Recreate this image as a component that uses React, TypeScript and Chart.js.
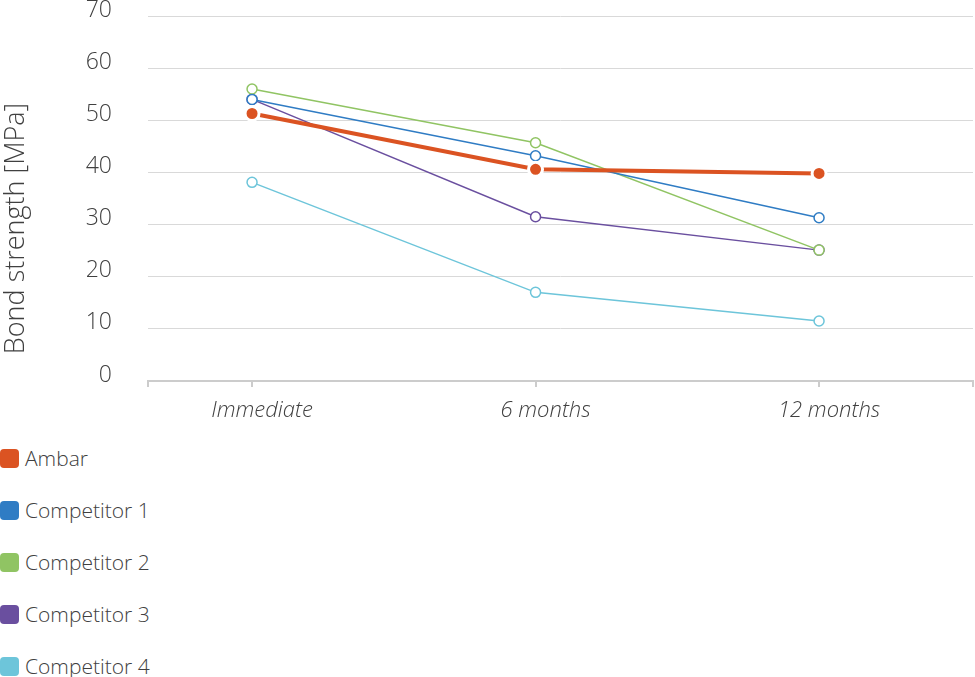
import React, { useEffect, useRef } from "react";
import { Chart, registerables } from "chart.js";

Chart.register(...registerables);

const categories = ["Immediate", "6 months", "12 months"];
const seriesNames = ["Ambar", "Competitor 1", "Competitor 2", "Competitor 3", "Competitor 4"];
const ambar = [51.3, 40.6, 39.8];
const competitor1 = [54.0, 43.2, 31.3];
const competitor2 = [56.0, 45.7, 25.1];
const competitor3 = [54.0, 31.5, 25.1];
const competitor4 = [38.1, 17.0, 11.5];
const yTicks = [0, 10, 20, 30, 40, 50, 60, 70];
const yTitle = "Bond strength [MPa]";
const colors = ["#db5322", "#2f7cc4", "#90c463", "#6a4f9f", "#6dc5da"];

const FONT = "'Open Sans', sans-serif";
const TEXT = "#404040";

const yTitlePlugin = {
  id: "yTitleLower",
  afterDraw(chart: any) {
    const { ctx, chartArea } = chart;
    ctx.save();
    ctx.fillStyle = TEXT;
    ctx.font = `300 27px ${FONT}`;
    ctx.textAlign = "center";
    ctx.textBaseline = "middle";
    ctx.translate(16, (chartArea.top + chartArea.bottom) / 2 + 30);
    ctx.rotate(-Math.PI / 2);
    ctx.fillText(yTitle, 0, 0);
    ctx.restore();
  },
};

export default function App() {
  const ref = useRef<HTMLCanvasElement | null>(null);

  useEffect(() => {
    document.body.style.margin = "0";
    const values = [ambar, competitor1, competitor2, competitor3, competitor4];
    const datasets = values.map((vals, i) => {
      const isMain = i === 0;
      return {
        label: seriesNames[i],
        data: vals.map((v, j) => ({ x: j, y: v })),
        borderColor: colors[i],
        backgroundColor: colors[i],
        borderWidth: isMain ? 4 : 1.5,
        pointRadius: isMain ? 7 : 5,
        pointBorderWidth: isMain ? 3 : 1.5,
        pointBackgroundColor: isMain ? colors[i] : "#ffffff",
        pointBorderColor: isMain ? "#ffffff" : colors[i],
        tension: 0,
      };
    });
    const xMin = -0.367;
    const xMax = 2.543;
    const chart = new Chart(ref.current!, {
      type: "line",
      data: { datasets },
      plugins: [yTitlePlugin],
      options: {
        animation: false,
        responsive: false,
        maintainAspectRatio: false,
        layout: { autoPadding: false, padding: { left: 0, right: 2, top: 16, bottom: 0 } },
        plugins: { legend: { display: false }, tooltip: { enabled: false } },
        scales: {
          x: {
            type: "linear",
            min: xMin,
            max: xMax,
            afterBuildTicks: (scale: any) => {
              scale.ticks = [xMin, 0, 1, 2, xMax].map((v) => ({ value: v }));
            },
            afterFit: (scale: any) => {
              scale.height = 49;
              scale.paddingLeft = 0;
              scale.paddingRight = 0;
            },
            ticks: {
              autoSkip: false,
              maxRotation: 0,
              padding: 11,
              labelOffset: 10,
              color: TEXT,
              font: { family: FONT, size: 22, style: "italic", weight: 300 },
              callback: (v: any) => {
                const idx = Math.round(v);
                return Math.abs(v - idx) < 1e-6 && categories[idx] ? categories[idx] : "";
              },
            },
            grid: {
              drawOnChartArea: false,
              drawTicks: true,
              tickLength: 6,
              color: "#cccccc",
              lineWidth: 2,
            },
            border: { display: true, color: "#cccccc", width: 2 },
          },
          y: {
            min: 0,
            max: 70,
            afterBuildTicks: (scale: any) => {
              scale.ticks = yTicks.map((v) => ({ value: v }));
            },
            afterFit: (scale: any) => {
              scale.width = 148;
              scale.paddingTop = 0;
              scale.paddingBottom = 0;
            },
            ticks: {
              padding: 36,
              labelOffset: -6,
              color: TEXT,
              font: { family: FONT, size: 23, weight: 300 },
            },
            grid: { drawTicks: false, color: "#d9d9d9", lineWidth: 1 },
            border: { display: false },
          },
        },
      },
    });
    return () => chart.destroy();
  }, []);

  return (
    <div style={{ width: 975, height: 677, overflow: "hidden", fontFamily: FONT }}>
      <canvas ref={ref} width={975} height={430} style={{ display: "block" }} />
      <div style={{ paddingTop: 2 }}>
        {seriesNames.map((name, i) => (
          <div
            key={name}
            style={{ display: "flex", alignItems: "center", height: 52, color: TEXT, fontSize: 21, fontWeight: 300 }}
          >
            <span
              style={{
                display: "inline-block",
                width: 19,
                height: 19,
                borderRadius: 4,
                background: colors[i],
                marginLeft: 0,
                marginRight: 6,
              }}
            />
            <span>{name}</span>
          </div>
        ))}
      </div>
    </div>
  );
}
